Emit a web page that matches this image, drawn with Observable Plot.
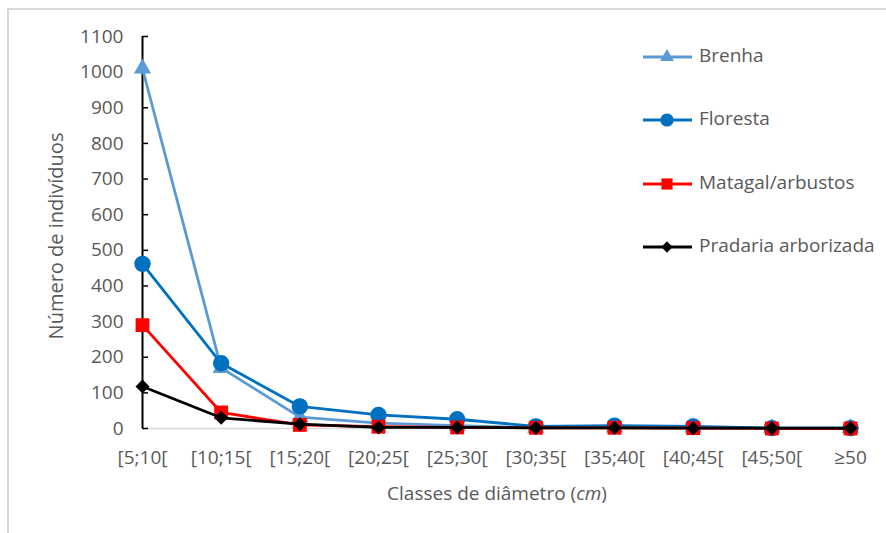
<!DOCTYPE html>
<html>
<head>
<meta charset="utf-8">
<script src="https://cdn.jsdelivr.net/npm/d3@7"></script>
<script src="https://cdn.jsdelivr.net/npm/@observablehq/plot@0.6"></script>
<style>
  body { margin: 0; background: #fff; }
  #wrap { position: relative; width: 886px; height: 533px; overflow: hidden; font-family: "Open Sans", sans-serif; }
  #frame { position: absolute; left: 7px; top: 8px; width: 900px; height: 600px; border-top: 2px solid #d9d9d9; border-left: 2px solid #d9d9d9; }
  #chart { position: absolute; left: 0; top: 0; }
</style>
</head>
<body>
<div id="wrap"><div id="frame"></div><div id="chart"></div></div>
<script>
const categories = ["[5;10[", "[10;15[", "[15;20[", "[20;25[", "[25;30[", "[30;35[", "[35;40[", "[40;45[", "[45;50[", "≥50"];
const seriesNames = ["Brenha", "Floresta", "Matagal/arbustos", "Pradaria arborizada"];
const brenha   = [1010, 170, 32, 15, 8, 2, 3, 3, 1, 1];
const floresta = [462, 183, 62, 38, 26, 6, 8, 6, 1, 1];
const matagal  = [290, 45, 10, 5, 3, 2, 2, 1, 0, 0];
const pradaria = [118, 30, 12, 3, 3, 2, 2, 1, 1, 1];
const yTicks = [0, 100, 200, 300, 400, 500, 600, 700, 800, 900, 1000, 1100];
const yLabel = "Número de indivíduos";
const xLabelMain = "Classes de diâmetro (";
const xLabelUnit = "cm";
const xLabelEnd = ")";

const colors = ["#5b9bd5", "#0070c0", "#ff0000", "#000000"];
const symbols = ["triangle", "circle", "square", "diamond2"];
const radii = [6.4, 8.2, 7.8, 6.3];
const allValues = [brenha, floresta, matagal, pradaria];

const rows = [];
seriesNames.forEach((s, i) => categories.forEach((c, j) => rows.push({series: s, cat: c, value: allValues[i][j]})));

const textColor = "#595959";
const FONT = "'Open Sans', sans-serif";
const marks = [
  Plot.ruleY([0], {stroke: "#d9d9d9", strokeWidth: 1.5}),
  Plot.axisY(yTicks, {tickSize: 0, tickPadding: 19, fontSize: 19, fill: textColor, label: null, tickFormat: d => String(d)}),
  Plot.ruleY(yTicks, {y: d => d, x1: () => categories[0], x2: () => categories[0], insetRight: -6, stroke: "#000", strokeWidth: 1.5}),
  Plot.axisX({tickSize: 0, tickPadding: 22, fontSize: 19, fill: textColor, label: null}),
  Plot.ruleX([categories[0]], {y1: 0, y2: 1100, stroke: "#000", strokeWidth: 2})
];
seriesNames.forEach((s, i) => {
  const d = rows.filter(r => r.series === s);
  marks.push(Plot.line(d, {x: "cat", y: "value", stroke: colors[i], strokeWidth: 2.8, strokeLinejoin: "round"}));
  marks.push(Plot.dot(d, {x: "cat", y: "value", fill: colors[i], stroke: "none", symbol: () => symbols[i], r: radii[i]}));
});

const chart = Plot.plot({
  width: 886,
  height: 533,
  marginLeft: 142,
  marginRight: 36,
  marginTop: 36,
  marginBottom: 105,
  style: {fontFamily: FONT, background: "transparent", overflow: "visible"},
  x: {type: "point", domain: categories, padding: 0, round: false, label: null},
  y: {domain: [0, 1100], ticks: yTicks, label: null},
  marks
});
document.getElementById("chart").appendChild(chart);

const svg = d3.select(chart);
// axis titles
svg.append("text")
  .attr("transform", "translate(58,236) rotate(-90)")
  .attr("text-anchor", "middle").attr("dominant-baseline", "middle")
  .attr("fill", textColor).style("font-size", "20px").style("font-family", FONT)
  .text(yLabel);
const xt = svg.append("text")
  .attr("x", 497).attr("y", 495)
  .attr("text-anchor", "middle").attr("dominant-baseline", "middle")
  .attr("fill", textColor).style("font-size", "19px").style("font-family", FONT);
xt.append("tspan").text(xLabelMain);
xt.append("tspan").style("font-style", "italic").text(xLabelUnit);
xt.append("tspan").text(xLabelEnd);

// legend
const legendY = [57, 120, 184, 247];
const lg = svg.append("g").attr("text-anchor", "start");
seriesNames.forEach((s, i) => {
  const g = lg.append("g").attr("transform", `translate(0,${legendY[i]})`);
  g.append("line").attr("x1", 643).attr("x2", 692).attr("y1", 0).attr("y2", 0).attr("stroke", colors[i]).attr("stroke-width", 2.8);
  const symType = [d3.symbolTriangle, d3.symbolCircle, d3.symbolSquare, d3.symbolDiamond2][i];
  g.append("path").attr("transform", "translate(667,0)").attr("d", d3.symbol(symType, Math.PI * radii[i] * radii[i] * 0.65)()).attr("fill", colors[i]);
  g.append("text").attr("x", 699).attr("y", 0).attr("dominant-baseline", "middle").attr("text-anchor", "start")
    .attr("fill", textColor).style("font-size", "19px").style("font-family", FONT).text(s);
});
</script>
</body>
</html>
